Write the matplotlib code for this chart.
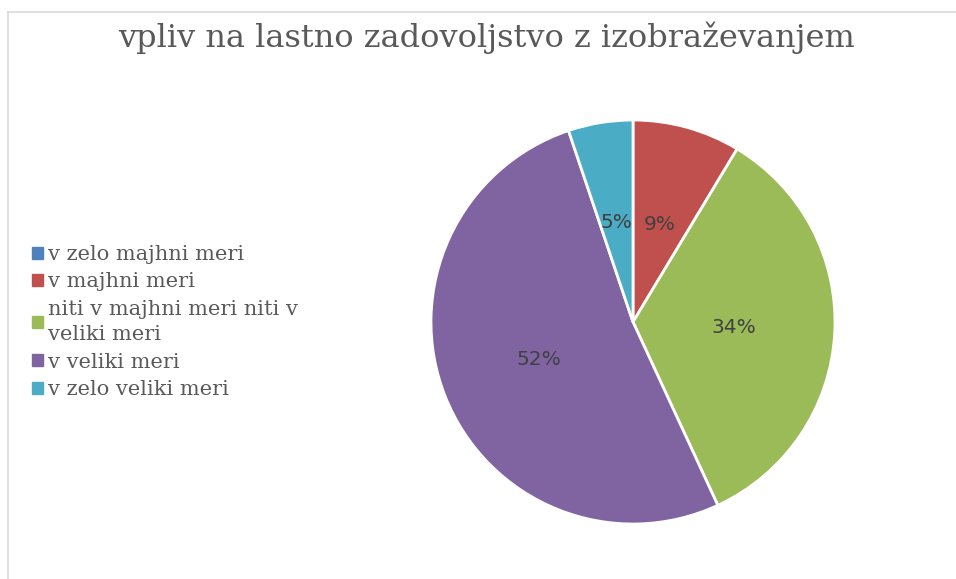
import matplotlib.pyplot as plt
from matplotlib.lines import Line2D

title = "vpliv na lastno zadovoljstvo z izobraževanjem"
labels = ["v zelo majhni meri", "v majhni meri",
          "niti v majhni meri niti v\nveliki meri", "v veliki meri",
          "v zelo veliki meri"]
counts = [0, 5, 20, 30, 3]
colors = ["#4F81BD", "#C0504D", "#9BBB59", "#8064A2", "#4BACC6"]

fig = plt.figure(figsize=(9.56, 5.79), dpi=100)

# chart border (top and left edges visible)
fig.add_artist(Line2D([8 / 956, 1], [1 - 12 / 579] * 2, color="#d9d9d9", lw=1.2))
fig.add_artist(Line2D([8 / 956] * 2, [0, 1 - 12 / 579], color="#d9d9d9", lw=1.2))

fig.text(0.509, 1 - 38 / 579, title, ha="center", va="center",
         fontsize=23, color="#595959", family="DejaVu Serif")

# pie: centre (633, 322), radius ~202 px
r = 202
ax = fig.add_axes([(633 - r) / 956, (579 - 322 - r) / 579, 2 * r / 956, 2 * r / 579])


def pct(p):
    return f"{p:.0f}%" if p > 0.5 else ""


wedges, texts, autotexts = ax.pie(
    counts, colors=colors, startangle=90, counterclock=False,
    autopct=pct, pctdistance=0.5,
    wedgeprops=dict(edgecolor="white", linewidth=2),
    textprops=dict(color="#404040", fontsize=14.5, family="DejaVu Sans"))
ax.set_aspect("equal")
ax.set_xlim(-1.0, 1.0)
ax.set_ylim(-1.0, 1.0)

handles = [plt.Rectangle((0, 0), 1, 1, color=c) for c in colors]
leg = fig.legend(handles, labels, loc="center left", bbox_to_anchor=(22 / 956, 1 - 322 / 579),
                 frameon=False, prop=dict(family="DejaVu Serif", size=15),
                 labelcolor="#595959", handlelength=0.5, handleheight=0.5,
                 handletextpad=0.25, labelspacing=0.4, borderpad=0)
for t in leg.get_texts():
    t.set_linespacing(1.45)

fig.savefig("out.png", dpi=100)
